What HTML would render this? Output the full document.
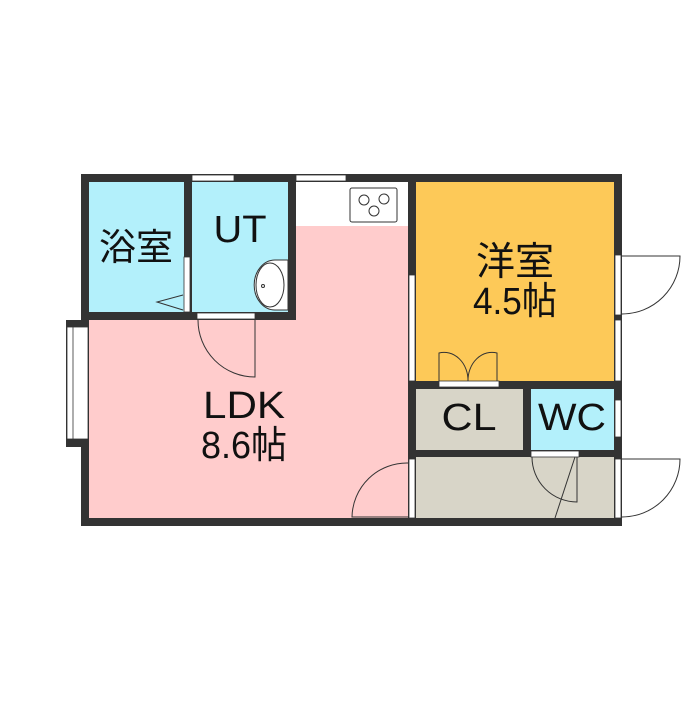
<!DOCTYPE html>
<html><head><meta charset="utf-8"><style>
html,body{margin:0;padding:0;background:#fff;}
svg text{font-family:"Liberation Sans","Noto Sans CJK JP",sans-serif;fill:#111;}
</style></head><body>
<svg width="700" height="700" viewBox="0 0 700 700" xmlns="http://www.w3.org/2000/svg">
<rect width="700" height="700" fill="#fff"/>
<rect x="81" y="174" width="541" height="352" fill="#333"/>
<rect x="66" y="320" width="23" height="127" fill="#333"/>
<rect x="89" y="182" width="95" height="130" fill="#b3f0fb"/>
<rect x="192" y="182" width="96" height="130" fill="#b3f0fb"/>
<rect x="296" y="182" width="112" height="44" fill="#fff"/>
<rect x="89" y="320" width="319" height="198" fill="#ffcccc"/>
<rect x="296" y="226" width="112" height="94" fill="#ffcccc"/>
<rect x="416" y="182" width="198" height="199" fill="#fdc958"/>
<rect x="416" y="389" width="107" height="61" fill="#d8d5c8"/>
<rect x="531" y="389" width="83" height="61" fill="#b3f0fb"/>
<rect x="416" y="457" width="198" height="61" fill="#d8d5c8"/>
<rect x="350" y="188" width="47" height="34" rx="2" fill="#fff" stroke="#333" stroke-width="1"/>
<circle cx="364" cy="200" r="5" fill="#fff" stroke="#333"/>
<circle cx="384" cy="199" r="5" fill="#fff" stroke="#333"/>
<circle cx="374" cy="211" r="5" fill="#fff" stroke="#333"/>
<g fill="#fff" stroke="#333" stroke-width="0.8">
<rect x="192" y="175" width="42" height="6"/>
<rect x="296" y="175" width="50" height="6"/>
<rect x="67" y="327" width="21" height="112"/>
<rect x="409" y="275" width="6" height="106"/>
<rect x="615" y="255" width="6" height="60"/>
<rect x="615" y="320" width="6" height="61"/>
<rect x="615" y="400" width="6" height="37"/>
<rect x="184" y="257" width="6" height="55"/>
<rect x="197" y="313" width="58" height="6"/>
<rect x="439" y="381" width="60" height="6"/>
<rect x="531" y="451" width="48" height="6"/>
<rect x="409" y="459" width="6" height="59"/>
<rect x="615" y="459" width="6" height="59"/>
</g>
<line x1="73" y1="327" x2="73" y2="439" stroke="#333" stroke-width="0.8"/>
<path d="M288 260 L275 260 A 20 24 0 0 0 275 310 L288 310 Z" fill="#fff" stroke="#333"/>
<ellipse cx="270" cy="285" rx="14" ry="22" fill="#fff" stroke="#333"/>
<circle cx="263" cy="286" r="1.5" fill="none" stroke="#333"/>
<path d="M183 295 L157 302 L183 310" fill="none" stroke="#333"/>
<g fill="none" stroke="#333" stroke-width="1">
<path d="M255 320 L255 377 A57 57 0 0 1 198 320"/>
<path d="M408 463 A55 55 0 0 0 352 517 L408 517"/>
<path d="M439 381 L439 353 A24 28 0 0 1 468 381"/>
<path d="M497 381 L497 353 A24 28 0 0 0 468 381"/>
<path d="M622 256 L680 256 A58 58 0 0 1 622 314"/>
<path d="M622 459 L680 459 A58 58 0 0 1 622 517"/>
<path d="M532 457 A45 45 0 0 0 577 502 L577 457"/>
<path d="M575 457 L555 518"/>
</g>
<g text-anchor="middle" font-size="38">
<text x="136" y="260" font-size="37">浴室</text>
<text x="240" y="242" textLength="53" lengthAdjust="spacingAndGlyphs">UT</text>
<text x="515" y="275" font-size="39">洋室</text>
<text x="515" y="314" textLength="84" lengthAdjust="spacingAndGlyphs">4.5帖</text>
<text x="244" y="418" textLength="82" lengthAdjust="spacingAndGlyphs">LDK</text>
<text x="244" y="458" textLength="86" lengthAdjust="spacingAndGlyphs">8.6帖</text>
<text x="469" y="430" textLength="55" lengthAdjust="spacingAndGlyphs">CL</text>
<text x="572" y="430" textLength="68" lengthAdjust="spacingAndGlyphs">WC</text>
</g>
</svg>
</body></html>
